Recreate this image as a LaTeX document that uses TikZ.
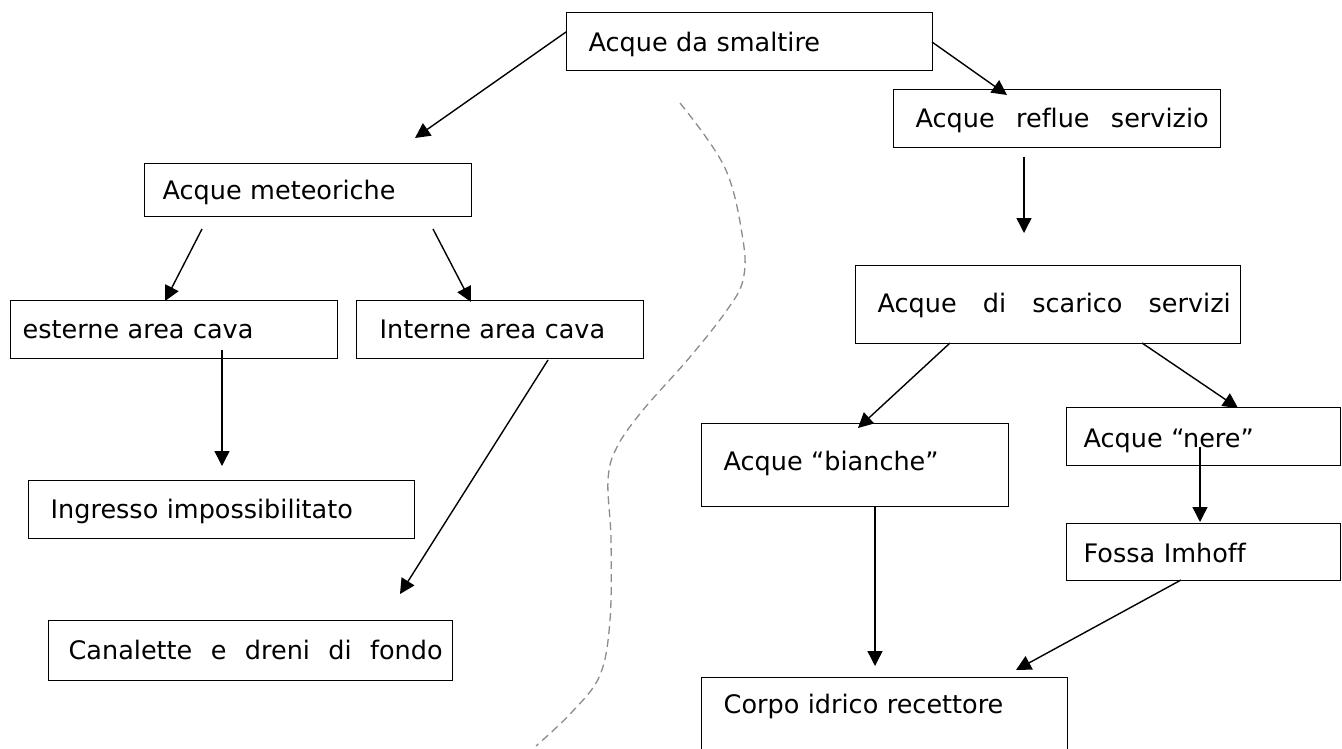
\documentclass[tikz,border=0pt]{standalone}
\usepackage{fontspec}
\setmainfont[Ligatures=NoCommon]{DejaVu Sans}
\usetikzlibrary{arrows.meta}
\begin{document}
\begin{tikzpicture}[x=1pt,y=-1pt,
  box/.style={draw, line width=1.4pt, anchor=north west, inner ysep=0pt, align=left, font=\fontsize{25.5}{30}\selectfont},
  arr/.style={line width=1.4pt, -{Triangle[length=15pt,width=15pt]}},
  sep/.style={draw=gray!90, line width=1.3pt, dash pattern=on 8pt off 5pt}]
\useasboundingbox (0,0) rectangle (1342,749);
\fill[white] (0,0) rectangle (1342,749);
% boxes
\node[box, inner xsep=22pt, text width=322pt, text height=39pt, text depth=19pt] (sm) at (566,12) {Acque da smaltire};
\node[box, inner xsep=12pt, text width=303pt, text height=38pt, text depth=20pt] (rs) at (893,89) {\hspace*{10pt}\makebox[293pt]{Acque\hfill reflue\hfill servizio}};
\node[box, inner xsep=18pt, text width=291pt, text height=36pt, text depth=17pt] (me) at (144,163) {Acque meteoriche};
\node[box, inner xsep=12pt, text width=303pt, text height=38pt, text depth=20pt] (es) at (10,300) {esterne area cava};
\node[box, inner xsep=23pt, text width=241pt, text height=38pt, text depth=20pt] (in) at (356,300) {Interne area cava};
\node[box, inner xsep=22pt, text width=342pt, text height=38pt, text depth=20pt] (ig) at (28,480) {Ingresso impossibilitato};
\node[box, inner xsep=10pt, text width=384pt, text height=39pt, text depth=21pt] (ca) at (48,620) {\hspace*{10pt}\makebox[374pt]{Canalette\hfill e\hfill dreni\hfill di\hfill fondo}};
\node[box, inner xsep=10pt, text width=365pt, text height=47pt, text depth=31pt] (sc) at (855,265) {\hspace*{12pt}\makebox[353pt]{Acque\hfill di\hfill scarico\hfill servizi}};
\node[box, inner xsep=22pt, text width=263pt, text height=47pt, text depth=36pt] (bi) at (701,423) {Acque “bianche”};
\node[box, inner xsep=17pt, text width=240pt, text height=40pt, text depth=18pt] (ne) at (1066,407) {Acque “nere”};
\node[box, inner xsep=17pt, text width=240pt, text height=39pt, text depth=18pt] (fo) at (1066,523) {Fossa Imhoff};
\node[box, inner xsep=22pt, text width=322pt, text height=36pt, text depth=47pt] (co) at (701,677) {Corpo idrico recettore};
% arrow end points
\coordinate (s1) at (566,32);
\coordinate (t1) at (415,138);
\coordinate (s2) at (932,42);
\coordinate (t2) at (1007,95);
\coordinate (s3) at (1024,157);
\coordinate (t3) at (1024,233);
\coordinate (s4) at (202,229);
\coordinate (t4) at (165,301);
\coordinate (s5) at (433,229);
\coordinate (t5) at (471,302);
\coordinate (s6) at (222,350);
\coordinate (t6) at (222,466);
\coordinate (s7) at (548,360);
\coordinate (t7) at (400,594);
\coordinate (s8) at (950,343);
\coordinate (t8) at (858,428);
\coordinate (s9) at (1142,343);
\coordinate (t9) at (1238,408);
\coordinate (s10) at (875,506);
\coordinate (t10) at (875,666);
\coordinate (s11) at (1200,447);
\coordinate (t11) at (1200,522);
\coordinate (s12) at (1181,580);
\coordinate (t12) at (1016,670);
% arrows
\draw[arr] (s1) -- (t1);
\draw[arr] (s2) -- (t2);
\draw[arr] (s3) -- (t3);
\draw[arr] (s4) -- (t4);
\draw[arr] (s5) -- (t5);
\draw[arr] (s6) -- (t6);
\draw[arr] (s7) -- (t7);
\draw[arr] (s8) -- (t8);
\draw[arr] (s9) -- (t9);
\draw[arr] (s10) -- (t10);
\draw[arr] (s11) -- (t11);
\draw[arr] (s12) -- (t12);
% dashed separator
\draw[sep] plot[smooth, tension=0.6] coordinates {(680,103) (725,168) (743,240) (743,280) (727,310) (690,357) (643,410) (617,447) (608,480) (611,540) (610,620) (600,675) (572,712) (536,746)};
\end{tikzpicture}
\end{document}
